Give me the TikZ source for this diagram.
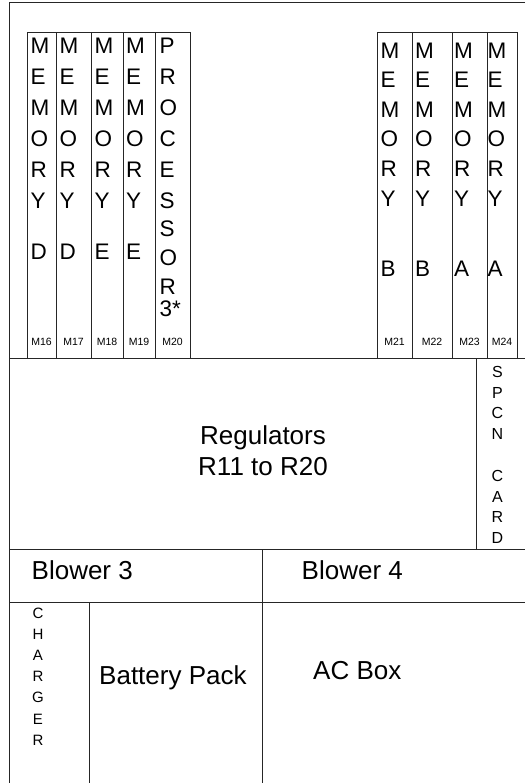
\documentclass[tikz,border=0pt]{standalone}
\usepackage{fontspec}
\setmainfont{Liberation Sans}
\begin{document}
\begin{tikzpicture}[x=1pt,y=-1pt,
  ln/.style={line width=1pt, draw=black!85},
  cardtext/.style={anchor=north west, inner sep=0pt, align=left, font=\fontsize{22.5}{31}\selectfont},
  rcardtext/.style={anchor=north west, inner sep=0pt, align=left, font=\fontsize{22.5}{29.6}\selectfont},
  mlabel/.style={inner sep=0pt, font=\fontsize{10.5}{11}\selectfont},
  biglabel/.style={inner sep=0pt, font=\fontsize{26}{31.3}\selectfont},
  vtext/.style={anchor=north, inner sep=0pt, align=center}
]
\useasboundingbox (0,0) rectangle (525,783);
% outer frame
\draw[ln] (525,3) -- (9,3) -- (9,783);
% left memory/processor cards
\draw[ln] (27,33) rectangle (190,358);
\foreach \x in {56,91,123,155} \draw[ln] (\x,33) -- (\x,359);
% right memory cards
\draw[ln] (377,33) rectangle (517,358);
\foreach \x in {412,452,487} \draw[ln] (\x,33) -- (\x,359);
% horizontal divisions
\draw[ln] (9,358) -- (525,358);
\draw[ln] (476,358) -- (476,549);
\draw[ln] (9,549) -- (525,549);
\draw[ln] (262,549) -- (262,783);
\draw[ln] (9,602) -- (525,602);
\draw[ln] (89,602) -- (89,783);

% card texts
\node[cardtext] (t16) at (30.5,37.5) {M\\E\\M\\O\\R\\Y\\[20.5pt]D};
\node[cardtext] (t17) at (59.5,37.5) {M\\E\\M\\O\\R\\Y\\[20.5pt]D};
\node[cardtext] (t18) at (94.5,37.5) {M\\E\\M\\O\\R\\Y\\[20.5pt]E};
\node[cardtext] (t19) at (126,37.5) {M\\E\\M\\O\\R\\Y\\[20.5pt]E};
\node[cardtext] (t20) at (159.5,37.5) {P\\R\\O\\C\\E\\S\\[-2.5pt]S\\[-2.5pt]O\\[-1.5pt]R\\[-9.5pt]3*};
\node[rcardtext] (t21) at (380.5,42.5) {M\\E\\M\\O\\R\\Y\\[40.4pt]B};
\node[rcardtext] (t22) at (415,42.5) {M\\E\\M\\O\\R\\Y\\[40.4pt]B};
\node[rcardtext] (t23) at (454,42.5) {M\\E\\M\\O\\R\\Y\\[40.4pt]A};
\node[rcardtext] (t24) at (487.5,42.5) {M\\E\\M\\O\\R\\Y\\[40.4pt]A};

% slot labels
\node[mlabel] (m16) at (41.5,342) {M16};
\node[mlabel] (m17) at (73.5,342) {M17};
\node[mlabel] (m18) at (107,342) {M18};
\node[mlabel] (m19) at (139,342) {M19};
\node[mlabel] (m20) at (172.5,342) {M20};
\node[mlabel] (m21) at (394.5,342) {M21};
\node[mlabel] (m22) at (432,342) {M22};
\node[mlabel] (m23) at (469.5,342) {M23};
\node[mlabel] (m24) at (502,342) {M24};

% regulators
\node[biglabel, anchor=north, align=center] (reg) at (263,425) {Regulators\\R11 to R20};
% SPCN card
\node[vtext, font=\fontsize{16}{20.8}\selectfont] (spcn) at (497.5,366) {S\\P\\C\\N\\[20.8pt]C\\A\\R\\D};
% blowers
\node[biglabel, anchor=base west] (bl3) at (31.5,579.5) {Blower 3};
\node[biglabel, anchor=base west] (bl4) at (301.5,579.5) {Blower 4};
% charger
\node[vtext, font=\fontsize{15}{21.2}\selectfont] (chg) at (38,607.5) {C\\H\\A\\R\\G\\E\\R};
\node[biglabel, anchor=base west] (bat) at (99,684) {Battery Pack};
\node[biglabel, anchor=base west] (ac) at (313,679.3) {AC Box};
\end{tikzpicture}
\end{document}
